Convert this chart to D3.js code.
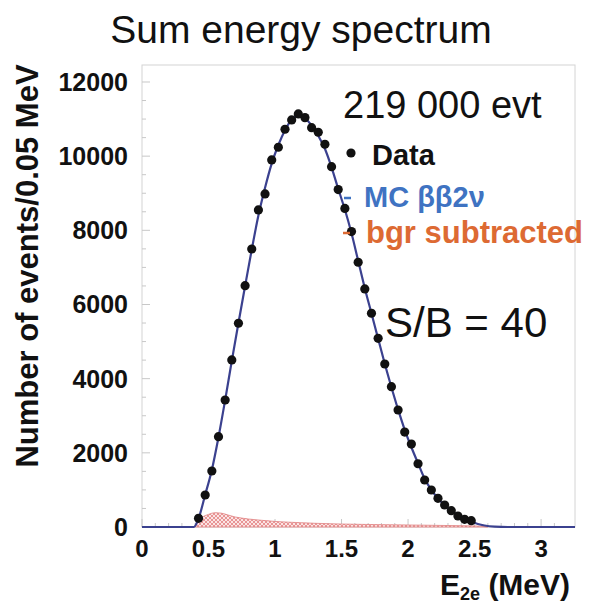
<!DOCTYPE html>
<html>
<head>
<meta charset="utf-8">
<script src="https://cdn.jsdelivr.net/npm/d3@7"></script>
<style>
  html, body { margin: 0; padding: 0; background: #fff; }
  svg { display: block; font-family: "Liberation Sans", Arial, sans-serif; }
</style>
</head>
<body>
<div id="chart"></div>
<script>
// ---- Data ----
const binCenters = [0.425,0.475,0.525,0.575,0.625,0.675,0.725,0.775,0.825,0.875,
  0.925,0.975,1.025,1.075,1.125,1.175,1.225,1.275,1.325,1.375,
  1.425,1.475,1.525,1.575,1.625,1.675,1.725,1.775,1.825,1.875,
  1.925,1.975,2.025,2.075,2.125,2.175,2.225,2.275,2.325,2.375,
  2.425,2.475];
const dataCounts = [235,863,1510,2435,3425,4504,5494,6508,7497,8549,
  8981,9898,10240,10725,10977,11139,11039,10769,10645,10321,
  9717,9100,8590,7965,7139,6419,5764,5089,4396,3784,
  3155,2560,2235,1705,1268,998,774,593,440,297,
  208,170];

const mcEnergy = [0,0.39,0.425,0.475,0.525,0.575,0.625,0.675,0.725,0.775,0.825,0.875,
  0.925,0.975,1.025,1.075,1.125,1.175,1.225,1.275,1.325,1.375,
  1.425,1.475,1.525,1.575,1.625,1.675,1.725,1.775,1.825,1.875,
  1.925,1.975,2.025,2.075,2.125,2.175,2.225,2.275,2.325,2.375,
  2.425,2.475,2.525,2.575,2.65,2.75,3.255];
const mcCounts = [0,0,230,870,1540,2420,3420,4480,5500,6500,7480,8400,
  9150,9800,10300,10700,10980,11080,11020,10830,10550,10200,
  9700,9120,8560,7920,7180,6440,5760,5080,4400,3770,
  3170,2620,2150,1720,1300,1000,770,590,440,310,
  210,140,80,40,10,0,0];

const bgrEnergy = [0.40,0.45,0.50,0.55,0.60,0.65,0.70,0.75,0.80,0.90,1.00,1.10,1.20,1.30,1.40,1.50,1.70,1.90,2.10,2.30,2.50,2.60];
const bgrCounts = [0,250,340,385,370,320,270,240,215,180,150,130,115,100,90,80,68,58,50,40,30,0];

const xTicks = [0,0.5,1,1.5,2,2.5,3];
const xTickLabels = ["0","0.5","1","1.5","2","2.5","3"];
const yTicks = [0,2000,4000,6000,8000,10000,12000];
const yTickLabels = ["0","2000","4000","6000","8000","10000","12000"];

const titleText = "Sum energy spectrum";
const yTitle = "Number of events/0.05 MeV";
const evtText = "219 000 evt";
const sbText = "S/B = 40";

// ---- Layout ----
const W = 595, H = 606;
const L = 142, R = 575, T = 65, B = 527;

const svg = d3.select("#chart").append("svg").attr("width", W).attr("height", H);

const x = d3.scaleLinear().domain([0, 3.255]).range([L, R]);
const y = d3.scaleLinear().domain([0, 12458]).range([B, T]);

// pattern for background fill
const defs = svg.append("defs");
const pat = defs.append("pattern").attr("id","hatch").attr("patternUnits","userSpaceOnUse")
  .attr("width",4).attr("height",4);
pat.append("rect").attr("width",4).attr("height",4).attr("fill","#fbe4e4");
pat.append("path").attr("d","M0,0L4,4M4,0L0,4").attr("stroke","#dc6060").attr("stroke-width",0.6);

// frame
svg.append("rect").attr("x",L).attr("y",T).attr("width",R-L).attr("height",B-T)
  .attr("fill","none").attr("stroke","#d4d4d4").attr("stroke-width",1);

// y ticks (minor every 500, major every 2000)
const yMinor = d3.range(0, 12001, 500);
svg.append("g").selectAll("line").data(yMinor).join("line")
  .attr("x1", L).attr("x2", d => L + (d % 2000 === 0 ? 8 : 4))
  .attr("y1", d => y(d)).attr("y2", d => y(d))
  .attr("stroke","#c8c8c8").attr("stroke-width",1);
// x ticks
const xMinor = d3.range(0, 32).map(i => i*0.1);
svg.append("g").selectAll("line").data(xMinor).join("line")
  .attr("x1", d => x(d)).attr("x2", d => x(d))
  .attr("y1", B).attr("y2", (d,i) => B - (i % 5 === 0 ? 8 : 4))
  .attr("stroke","#c8c8c8").attr("stroke-width",1);

// y tick labels
svg.append("g").selectAll("text").data(yTicks).join("text")
  .attr("x", 128).attr("y", d => y(d) + 9)
  .attr("text-anchor","end").attr("font-weight","bold").attr("font-size",25)
  .attr("fill","#111").text((d,i) => yTickLabels[i]);
// x tick labels
svg.append("g").selectAll("text").data(xTicks).join("text")
  .attr("x", d => x(d)).attr("y", 557)
  .attr("text-anchor","middle").attr("font-weight","bold").attr("font-size",24)
  .attr("fill","#111").text((d,i) => xTickLabels[i]);

// background area
const bgrData = bgrEnergy.map((e,i) => [e, bgrCounts[i]]);
svg.append("path").datum(bgrData)
  .attr("d", d3.area().x(d => x(d[0])).y0(B).y1(d => y(d[1])).curve(d3.curveMonotoneX))
  .attr("fill","url(#hatch)").attr("stroke","#e08080").attr("stroke-width",0.8);

// MC line
const mcData = mcEnergy.map((e,i) => [e, mcCounts[i]]);
svg.append("path").datum(mcData)
  .attr("d", d3.line().x(d => x(d[0])).y(d => y(d[1])).curve(d3.curveMonotoneX))
  .attr("fill","none").attr("stroke","#3b418f").attr("stroke-width",2.2);

// data points
svg.append("g").selectAll("circle").data(binCenters).join("circle")
  .attr("cx", d => x(d)).attr("cy", (d,i) => y(dataCounts[i]))
  .attr("r", 4.6).attr("fill","#111");

// title
svg.append("text").attr("x", 301).attr("y", 43).attr("text-anchor","middle")
  .attr("font-size", 39).attr("fill","#111").text(titleText);

// y axis title
svg.append("text").attr("transform","translate(38,266) rotate(-90)")
  .attr("text-anchor","middle").attr("font-weight","bold").attr("font-size",31)
  .attr("fill","#111").text(yTitle);

// x axis title
const xt = svg.append("text").attr("x", 440).attr("y", 595)
  .attr("font-weight","bold").attr("font-size",30).attr("fill","#111");
xt.append("tspan").text("E");
xt.append("tspan").attr("font-size",18).attr("dy",5).text("2e");
xt.append("tspan").attr("dy",-5).text(" (MeV)");

// annotations
svg.append("text").attr("x", 343).attr("y", 118).attr("font-size", 38)
  .attr("fill","#111").text(evtText);
svg.append("circle").attr("cx", 351).attr("cy", 153).attr("r", 4.6).attr("fill","#111");
svg.append("text").attr("x", 372).attr("y", 165).attr("font-size", 29)
  .attr("font-weight","bold").attr("fill","#111").text("Data");
svg.append("line").attr("x1",344).attr("x2",351).attr("y1",198).attr("y2",198)
  .attr("stroke","#3f73c2").attr("stroke-width",2.5);
svg.append("text").attr("x", 364).attr("y", 207).attr("font-size", 29)
  .attr("font-weight","bold").attr("fill","#3f73c2").text("MC ββ2ν");
svg.append("line").attr("x1",343).attr("x2",350).attr("y1",233).attr("y2",233)
  .attr("stroke","#dd6a33").attr("stroke-width",2.5);
svg.append("text").attr("x", 366).attr("y", 243).attr("font-size", 31)
  .attr("font-weight","bold").attr("fill","#dd6a33").text("bgr subtracted");
svg.append("text").attr("x", 385).attr("y", 337).attr("font-size", 42)
  .attr("fill","#111").text(sbText);
</script>
</body>
</html>
